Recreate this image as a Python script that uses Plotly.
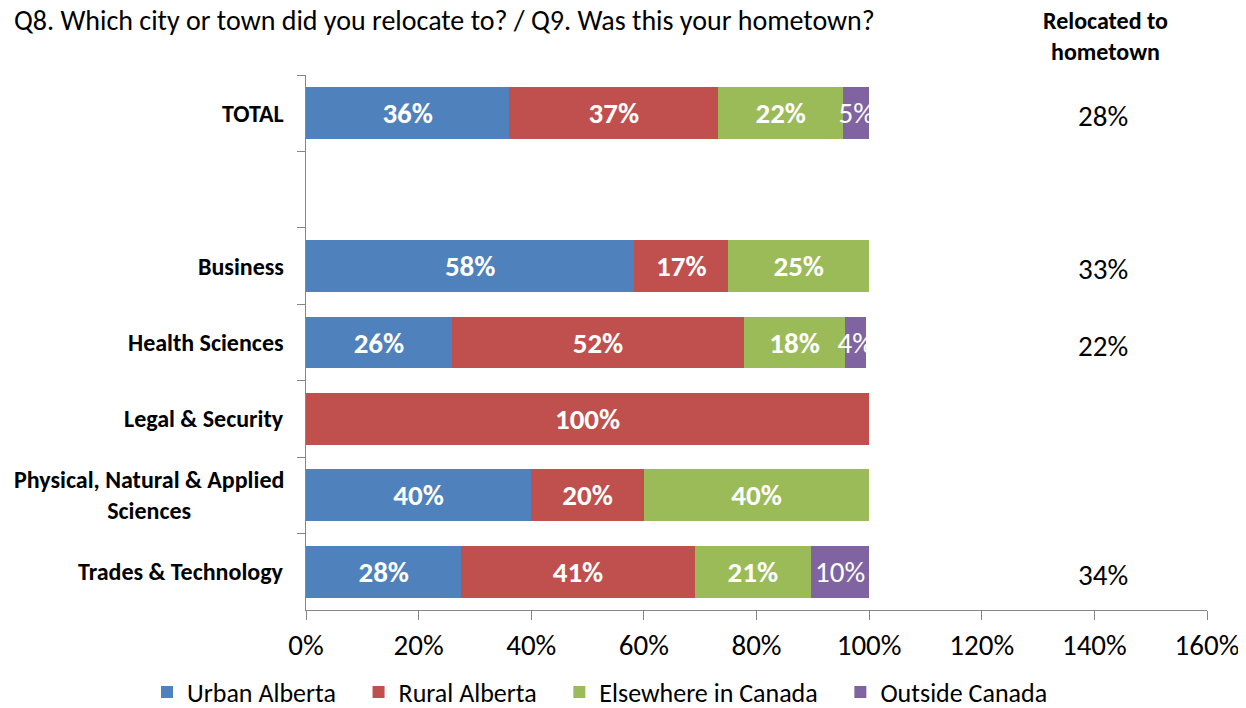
import plotly.graph_objects as go

categories = ["TOTAL", " ", "Business", "Health Sciences", "Legal & Security",
              "Physical, Natural & Applied<br>Sciences", "Trades & Technology"]
urban_alberta = [36.1, None, 58.3, 25.9, None, 40.0, 27.6]
rural_alberta = [37.1, None, 16.7, 51.9, 100.0, 20.0, 41.4]
elsewhere_canada = [22.2, None, 25.0, 17.9, None, 40.0, 20.7]
outside_canada = [4.6, None, None, 3.7, None, None, 10.3]
hometown = ["28%", "", "33%", "22%", "", "", "34%"]
x_ticks = [0, 20, 40, 60, 80, 100, 120, 140, 160]

FONT = "Carlito, Calibri, Lato, sans-serif"
PAD = "\u00a0" * 3

series = [
    ("Urban Alberta", urban_alberta, "#4F81BD", "bold"),
    ("Rural Alberta", rural_alberta, "#C0504D", "bold"),
    ("Elsewhere in Canada", elsewhere_canada, "#9BBB59", "bold"),
    ("Outside Canada", outside_canada, "#8064A2", "normal"),
]

fig = go.Figure()
for i, (name, vals, color, weight) in enumerate(series):
    fig.add_trace(go.Bar(
        y=categories, x=vals, name=name + (PAD if i < len(series) - 1 else ""),
        orientation="h",
        marker=dict(color=color, line=dict(width=0)),
        width=0.68,
        texttemplate="%{x:.0f}%", textposition="inside",
        insidetextanchor="middle", textangle=0, constraintext="none",
        textfont=dict(family=FONT, size=29, color="white", weight=weight),
        hoverinfo="skip",
    ))

annotations = []
for cat in categories:
    annotations.append(dict(
        xref="paper", yref="y", x=0, y=cat, text=cat, showarrow=False,
        xanchor="right", yanchor="middle", align="center", xshift=-20,
        font=dict(family=FONT, size=24, color="black", weight="bold"),
    ))
for cat, val in zip(categories, hometown):
    if val:
        annotations.append(dict(
            xref="paper", yref="y", x=0.8846, y=cat, text=val, showarrow=False,
            xanchor="center", yanchor="middle", yshift=-3,
            font=dict(family=FONT, size=29, color="black"),
        ))
annotations.append(dict(
    xref="paper", yref="paper", x=0.8868, y=1.0720, text="Relocated to<br>hometown",
    showarrow=False, xanchor="center", yanchor="middle", align="center",
    font=dict(family=FONT, size=24, color="black", weight="bold"),
))

W, H = 1238, 700
fig.update_layout(
    width=W, height=H,
    margin=dict(l=298, r=39, t=67, b=98, autoexpand=False),
    barmode="stack",
    plot_bgcolor="white", paper_bgcolor="white",
    font=dict(family=FONT, color="black"),
    title=dict(
        text="Q8. Which city or town did you relocate to? / Q9. Was this your hometown?",
        x=6 / W, xanchor="left", xref="container",
        y=1 - 12 / H, yanchor="middle", yref="container",
        font=dict(family=FONT, size=28, color="black"),
    ),
    xaxis=dict(
        range=[0, 160], tickvals=x_ticks, ticktext=[f"{v}%" for v in x_ticks],
        showgrid=False, zeroline=False, showline=True, linecolor="#868686", linewidth=1,
        ticks="outside", ticklen=9, tickcolor="#868686",
        tickfont=dict(family=FONT, size=29, color="black"),
    ),
    yaxis=dict(
        categoryorder="array", categoryarray=categories, autorange="reversed",
        showticklabels=False, showgrid=False, zeroline=False,
        showline=True, linecolor="#868686", linewidth=1,
        ticks="outside", ticklen=8, tickcolor="#868686", tickson="boundaries",
    ),
    legend=dict(
        orientation="h", xref="container", x=592 / W, xanchor="center",
        yref="container", y=(H - 684) / H, yanchor="middle",
        font=dict(family=FONT, size=26, color="black"),
        traceorder="normal", itemsizing="constant",
    ),
    annotations=annotations,
    showlegend=True,
)

fig.write_html("out.html")
